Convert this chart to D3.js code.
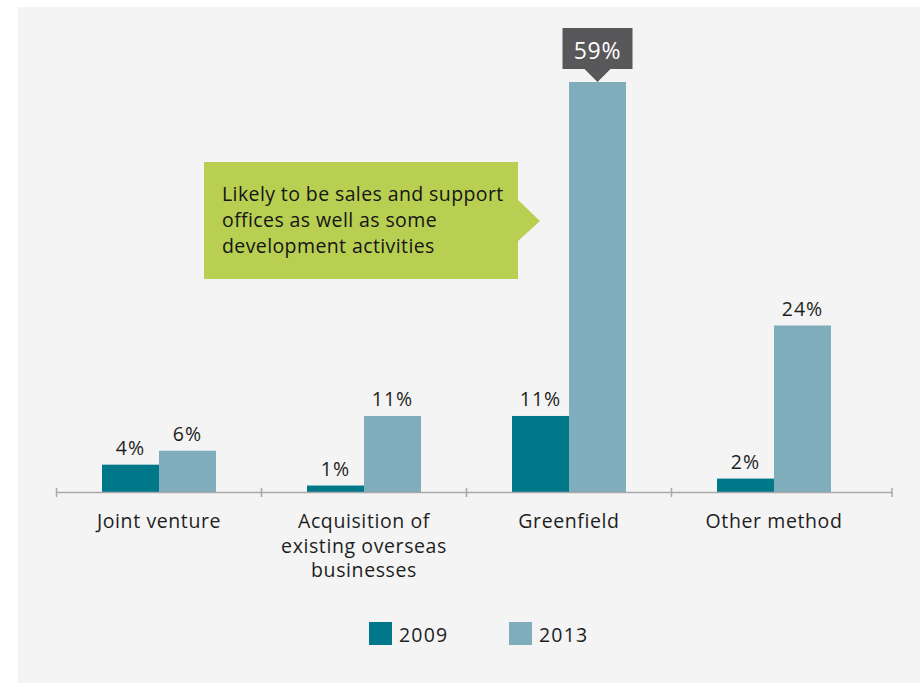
<!DOCTYPE html>
<html>
<head>
<meta charset="utf-8">
<script src="https://cdn.jsdelivr.net/npm/d3@7"></script>
<style>
  html, body { margin: 0; padding: 0; background: #ffffff; }
  svg { display: block; font-family: "Open Sans", "Noto Sans", sans-serif; }
</style>
</head>
<body>
<svg id="chart" width="920" height="683"></svg>
<script>
// Entry methods for overseas expansion, share of respondents
const categories = ["Joint venture", "Acquisition of existing overseas businesses", "Greenfield", "Other method"];
const categoryLines = [["Joint venture"], ["Acquisition of", "existing overseas", "businesses"], ["Greenfield"], ["Other method"]];
const seriesNames = ["2009", "2013"];
const values2009 = [4, 1, 11, 2];
const values2013 = [6, 11, 59, 24];
const noteLines = ["Likely to be sales and support", "offices as well as some", "development activities"];

const colors = { "2009": "#00788a", "2013": "#80adbb" };

const svg = d3.select("#chart");

// panel background
svg.append("rect").attr("x", 18).attr("y", 7).attr("width", 902).attr("height", 676).attr("fill", "#f4f4f4");

const axisY = 492.5;
const x0 = d3.scaleBand().domain(categories).range([56.5, 876.5]).paddingInner(0).paddingOuter(0);
const x1 = d3.scaleBand().domain(seriesNames).range([x0.bandwidth() / 2 - 57, x0.bandwidth() / 2 + 57]);
const y = d3.scaleLinear().domain([0, 59]).range([axisY, 82]);

const rows = categories.map((c, i) => ({ cat: c, lines: categoryLines[i], vals: { "2009": values2009[i], "2013": values2013[i] } }));

// bars
const groups = svg.append("g").selectAll("g").data(rows).join("g")
  .attr("transform", d => `translate(${x0(d.cat)},0)`);

groups.selectAll("rect").data(d => seriesNames.map(s => ({ s, v: d.vals[s] }))).join("rect")
  .attr("x", d => x1(d.s))
  .attr("width", x1.bandwidth())
  .attr("y", d => y(d.v))
  .attr("height", d => axisY - y(d.v))
  .attr("fill", d => colors[d.s]);

// value labels (the 59% peak gets its own call-out)
groups.selectAll("text.val").data(d => seriesNames.map(s => ({ s, v: d.vals[s] })).filter(d => d.v !== 59)).join("text")
  .attr("class", "val")
  .attr("x", d => x1(d.s) + x1.bandwidth() / 2)
  .attr("y", d => y(d.v) - 10)
  .attr("text-anchor", "middle")
  .attr("font-size", 19.5)
  .attr("letter-spacing", 1)
  .attr("fill", "#1e1e1e")
  .text(d => d.v + "%");

// axis line with ticks
const axisG = svg.append("g");
axisG.append("line").attr("x1", 56).attr("x2", 892).attr("y1", axisY).attr("y2", axisY)
  .attr("stroke", "#a8a8a8").attr("stroke-width", 1.5);
const tickXs = categories.map(c => x0(c)).concat([892]);
axisG.selectAll("line.tick").data(tickXs).join("line")
  .attr("class", "tick")
  .attr("x1", d => d).attr("x2", d => d)
  .attr("y1", axisY - 4.5).attr("y2", axisY + 4.5)
  .attr("stroke", "#a8a8a8").attr("stroke-width", 1.5);

// category labels
const catText = svg.append("g").selectAll("text").data(rows).join("text")
  .attr("x", d => x0(d.cat) + x0.bandwidth() / 2)
  .attr("y", 528)
  .attr("text-anchor", "middle")
  .attr("font-size", 19.5)
  .attr("letter-spacing", 0.6)
  .attr("fill", "#1e1e1e");
catText.selectAll("tspan").data(d => d.lines).join("tspan")
  .attr("x", function () { return d3.select(this.parentNode).attr("x"); })
  .attr("dy", (d, i) => i === 0 ? 0 : 24.5)
  .text(d => d);

// call-out for the Greenfield 2013 peak
const peakIdx = values2013.indexOf(d3.max(values2013));
const peakX = x0(categories[peakIdx]) + x1("2013") + x1.bandwidth() / 2;
const peakTop = y(values2013[peakIdx]);
const bw = 70, bh = 41;
svg.append("path")
  .attr("d", `M${peakX - bw / 2},${peakTop - 54} h${bw} v${bh} H${peakX + 13} L${peakX},${peakTop} L${peakX - 13},${peakTop - 13} H${peakX - bw / 2} Z`)
  .attr("fill", "#58585a");
svg.append("text")
  .attr("x", peakX).attr("y", peakTop - 23)
  .attr("text-anchor", "middle")
  .attr("font-size", 23)
  .attr("letter-spacing", 0.8)
  .attr("fill", "#ffffff")
  .text(values2013[peakIdx] + "%");

// green note box pointing toward the Greenfield bars
svg.append("path")
  .attr("d", "M204,162 H518 V200 L540,221 L518,241 V279 H204 Z")
  .attr("fill", "#b8cf52");
svg.append("g").selectAll("text").data(noteLines).join("text")
  .attr("x", 222)
  .attr("y", (d, i) => 201 + i * 26)
  .attr("font-size", 19.5)
  .attr("letter-spacing", 0.4)
  .attr("fill", "#151515")
  .text(d => d);

// legend
const legend = svg.append("g").selectAll("g").data(seriesNames).join("g")
  .attr("transform", (d, i) => `translate(${369 + i * 140},622)`);
legend.append("rect").attr("width", 23).attr("height", 23).attr("fill", d => colors[d]);
legend.append("text").attr("x", 30).attr("y", 20).attr("font-size", 19.5).attr("letter-spacing", 1.2).attr("fill", "#1e1e1e").text(d => d);
</script>
</body>
</html>
